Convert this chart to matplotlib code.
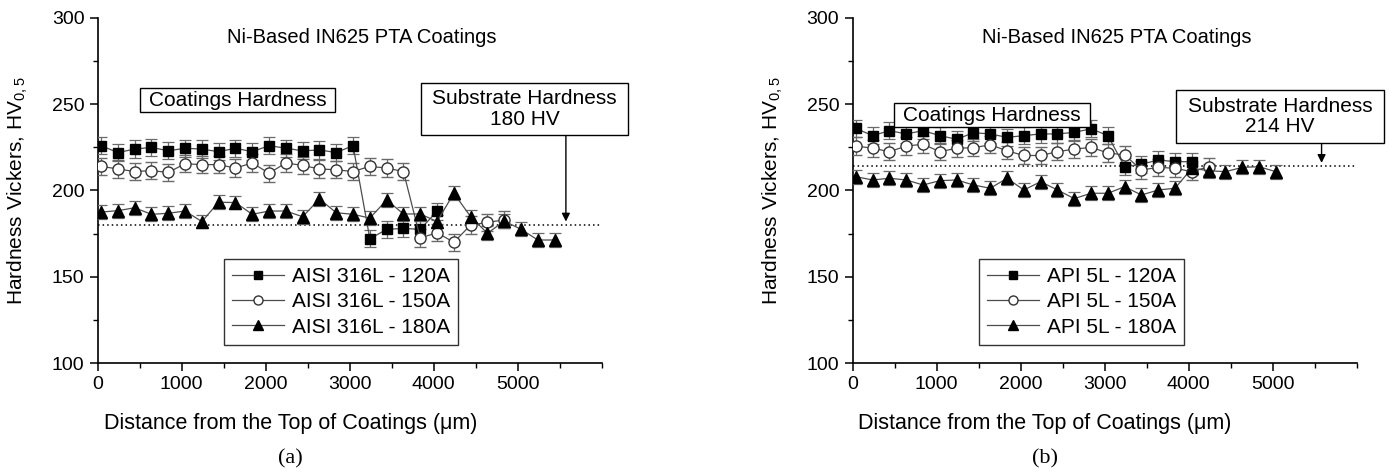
import matplotlib
matplotlib.use("Agg")
import matplotlib.pyplot as plt
from matplotlib.patches import Rectangle
from matplotlib.lines import Line2D
from matplotlib.ticker import MultipleLocator, FixedLocator

plt.rcParams['font.family'] = ['Liberation Sans', 'DejaVu Sans']
plt.rcParams['mathtext.fontset'] = 'custom'
plt.rcParams['mathtext.rm'] = 'Liberation Sans'

# ---------------- data: panel (a) AISI 316L ----------------
labels_a = ["AISI 316L - 120A", "AISI 316L - 150A", "AISI 316L - 180A"]
d_a120 = [40, 240, 440, 640, 840, 1040, 1240, 1440, 1640, 1840, 2040, 2240, 2440, 2640, 2840, 3040,
          3240, 3440, 3640, 3840, 4040]
hv_a120 = [226, 222, 224, 225, 223, 224.5, 224, 222.5, 224.5, 222.5, 226, 224.5, 223, 223.5, 222, 226,
           172, 177.5, 178, 177.5, 188]
d_a150 = [40, 240, 440, 640, 840, 1040, 1240, 1440, 1640, 1840, 2040, 2240, 2440, 2640, 2840, 3040,
          3240, 3440, 3640, 3840, 4040, 4240, 4440, 4640, 4840]
hv_a150 = [214, 212.5, 211, 211.5, 210.5, 215.5, 215, 215, 213, 216, 210, 216, 214.5, 212.5, 212, 211,
           214, 213, 211, 172.5, 175.5, 170, 180, 181.5, 183]
d_a180 = [40, 240, 440, 640, 840, 1040, 1240, 1440, 1640, 1840, 2040, 2240, 2440, 2640, 2840, 3040,
          3240, 3440, 3640, 3840, 4040, 4240, 4440, 4640, 4840, 5040, 5240, 5440]
hv_a180 = [187.5, 188.3, 190, 186.2, 186.8, 188.1, 182, 193.2, 193, 186.2, 188.1, 188.1, 184.8, 195.1,
           187.1, 186.2, 184, 194.5, 186.4, 186.4, 182, 198.4, 184.8, 175.2, 182.3, 177.5, 171.3, 171.3]

# ---------------- data: panel (b) API 5L ----------------
labels_b = ["API 5L - 120A", "API 5L - 150A", "API 5L - 180A"]
d_b120 = [40, 240, 440, 640, 840, 1040, 1240, 1440, 1640, 1840, 2040, 2240, 2440, 2640, 2840, 3040,
          3240, 3440, 3640, 3840, 4040]
hv_b120 = [236, 231.8, 234.7, 232.8, 234.7, 231.8, 229.7, 233.5, 232.8, 230.8, 231.8, 232.8, 232.8,
           233.7, 235.8, 231.8, 213.8, 215.2, 217.7, 216.7, 216.7]
d_b150 = [40, 240, 440, 640, 840, 1040, 1240, 1440, 1640, 1840, 2040, 2240, 2440, 2640, 2840, 3040,
          3240, 3440, 3640, 3840, 4040, 4240]
hv_b150 = [225.8, 224.5, 222.5, 225.8, 226.8, 222.5, 224.5, 224.8, 226.5, 223, 220.3, 220.3, 222.5,
           224, 225, 221.8, 220.6, 211.9, 213.4, 212.9, 210.9, 213.8]
d_b180 = [40, 240, 440, 640, 840, 1040, 1240, 1440, 1640, 1840, 2040, 2240, 2440, 2640, 2840, 3040,
          3240, 3440, 3640, 3840, 4040, 4240, 4440, 4640, 4840, 5040]
hv_b180 = [208, 206.1, 207.1, 206.1, 203.2, 205.7, 206.1, 203.2, 201.3, 207.1, 200.3, 205.1, 200.3,
           195.3, 198.4, 198.4, 202.2, 197.4, 200.3, 201.3, 212.9, 211.5, 210.9, 213.4, 213.8, 210.9]

err_120, err_150, err_180 = 5, 5, 4
substrate_hv = [180, 214]
substrate_txt = ["Substrate Hardness\n180 HV", "Substrate Hardness\n214 HV"]
title_txt = "Ni-Based IN625 PTA Coatings"
coat_txt = "Coatings Hardness"
panel_tags = ["(a)", "(b)"]
x_ticks = [0, 1000, 2000, 3000, 4000, 5000]
y_ticks = [100, 150, 200, 250, 300]

fig = plt.figure(figsize=(13.9, 4.73), dpi=100)
W, H = 1390, 473
ax_a = fig.add_axes([97.7 / W, 1 - 363 / H, 504 / W, 345 / H])
ax_b = fig.add_axes([852.5 / W, 1 - 363 / H, 504 / W, 345 / H])

line_col = '#4d4d4d'
err_col = '#6a6a6a'

# per panel: axes, labels, series, substrate value, text, coatings box (x0,x1,y0,y1),
# substrate box (x0,x1,y0,y1)
panels = [
    (ax_a, labels_a, [(d_a120, hv_a120, err_120), (d_a150, hv_a150, err_150), (d_a180, hv_a180, err_180)],
     substrate_hv[0], substrate_txt[0], (498, 2829, 245.5, 259.4), (3849, 6313, 232.2, 262.3)),
    (ax_b, labels_b, [(d_b120, hv_b120, err_120), (d_b150, hv_b150, err_150), (d_b180, hv_b180, err_180)],
     substrate_hv[1], substrate_txt[1], (498, 2829, 236.8, 250.7), (3851, 6327, 227.5, 258.3)),
]
styles = [dict(marker='s', mfc='black', mec='black', ms=7),
          dict(marker='o', mfc='white', mec='#333333', ms=8, mew=1.0),
          dict(marker='^', mfc='black', mec='black', ms=8.5)]
leg_styles = [dict(marker='s', mfc='black', mec='black', ms=6),
              dict(marker='o', mfc='white', mec='#333333', ms=6.5, mew=1.0),
              dict(marker='^', mfc='black', mec='black', ms=7)]

for i, (ax, labels, series, sub, stxt, cbox, sbox) in enumerate(panels):
    ax.axhline(sub, xmin=0, xmax=1, color='black', ls=(0, (1, 2)), lw=1.1, zorder=1)
    for (d, hv, e), st in zip(series, styles):
        ax.errorbar(d, hv, yerr=e, color=line_col, lw=0.9, ecolor=err_col, elinewidth=0.9,
                    capsize=4.5, capthick=0.9, zorder=3, **st)
    ax.set_xlim(0, 6000)
    ax.set_ylim(100, 300)
    ax.xaxis.set_major_locator(FixedLocator(x_ticks))
    ax.xaxis.set_minor_locator(MultipleLocator(500))
    ax.yaxis.set_major_locator(FixedLocator(y_ticks))
    ax.yaxis.set_minor_locator(MultipleLocator(25))
    for s in ['top', 'right']:
        ax.spines[s].set_visible(False)
    for s in ['left', 'bottom']:
        ax.spines[s].set_linewidth(1.2)
    ax.tick_params(which='major', direction='out', length=6, width=1.1, labelsize=14)
    ax.tick_params(which='minor', direction='out', length=3.5, width=1.0)
    ax.set_xlabel("Distance from the Top of Coatings (\u03bcm)", fontsize=15.5)
    ax.xaxis.set_label_coords(0.382, -0.145)
    ax.set_ylabel("Hardness Vickers, HV$_{0,5}$", fontsize=15)
    ax.yaxis.set_label_coords(-0.134, 0.5)
    ax.text(3140, 288.5, title_txt, ha='center', va='center', fontsize=14.5)

    cx0, cx1, cy0, cy1 = cbox
    ax.add_patch(Rectangle((cx0, cy0), cx1 - cx0, cy1 - cy0, fill=True, fc='white', ec='black',
                           lw=1.0, clip_on=False, zorder=4))
    ax.text((cx0 + cx1) / 2, (cy0 + cy1) / 2, coat_txt, ha='center', va='center', fontsize=15, zorder=5)

    sx0, sx1, sy0, sy1 = sbox
    ax.add_patch(Rectangle((sx0, sy0), sx1 - sx0, sy1 - sy0, fill=True, fc='white', ec='black',
                           lw=1.0, clip_on=False, zorder=4))
    ax.text((sx0 + sx1) / 2, (sy0 + sy1) / 2, stxt, ha='center', va='center', fontsize=15,
            linespacing=1.1, zorder=5)
    ax_x = sx0 + 0.7 * (sx1 - sx0)
    ax.annotate('', xy=(ax_x, sub + 2), xytext=(ax_x, sy0),
                arrowprops=dict(arrowstyle='-|>', color='black', lw=1.0, mutation_scale=12,
                                shrinkA=0, shrinkB=0))

    handles = [Line2D([], [], color=line_col, lw=0.9, **ls) for ls in leg_styles]
    leg = ax.legend(handles, labels, loc='lower left', bbox_to_anchor=(0.2506, 0.052), fontsize=15,
                    frameon=True, fancybox=False, edgecolor='black', handlelength=2.5, borderpad=0.4,
                    labelspacing=0.3, handletextpad=0.35, borderaxespad=0)
    leg.get_frame().set_linewidth(1.0)
    ax.text(0.382, -0.249, panel_tags[i], transform=ax.transAxes, ha='center', va='top',
            fontsize=16, family=['Liberation Serif', 'DejaVu Serif'])

fig.savefig("out.png", dpi=100)
